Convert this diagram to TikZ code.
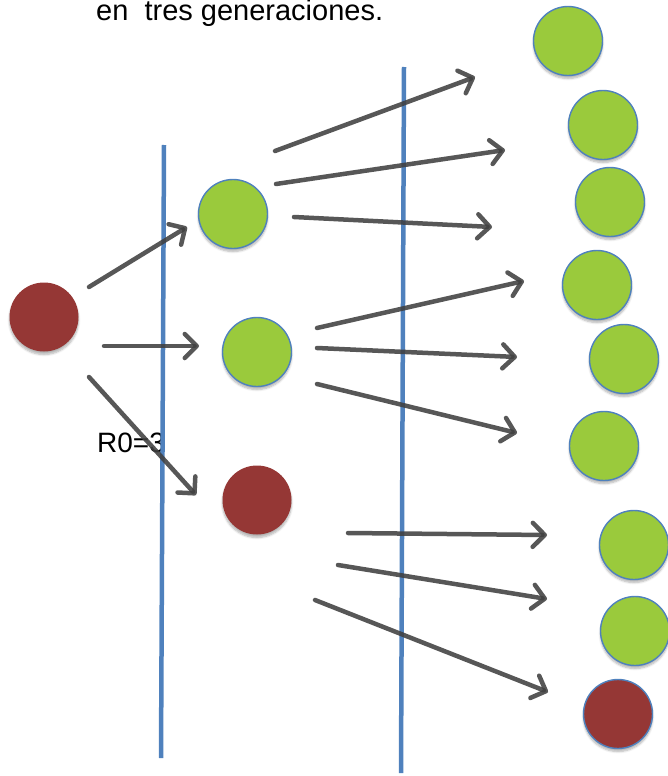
\documentclass[tikz,border=0pt]{standalone}
\usepackage{fontspec}
\setmainfont{Liberation Sans}
\usetikzlibrary{arrows.meta,shadows.blur}
\definecolor{leaf}{RGB}{154,202,60}
\definecolor{rust}{RGB}{149,55,53}
\definecolor{edge}{RGB}{79,129,189}
\definecolor{ink}{RGB}{64,64,64}
\tikzset{
  case/.style={circle,minimum size=69pt,inner sep=0pt,
    blur shadow={shadow xshift=0pt,shadow yshift=-3pt,shadow blur steps=6,shadow opacity=30}},
  healthy/.style={case,fill=leaf,draw=edge,line width=1.4pt},
  sick/.style={case,fill=rust},
  sickedge/.style={case,fill=rust,draw=edge,line width=1.4pt},
  spread/.style={draw=ink,draw opacity=0.88,line width=4.5pt,line cap=round,line join=round,
    -{Straight Barb[length=12pt,width=24pt,line cap=round,line join=round]}},
  divider/.style={draw=edge,line width=4.5pt},
  label/.style={font=\fontsize{29}{32}\selectfont,inner sep=0pt,anchor=base west}
}
\begin{document}
\begin{tikzpicture}[x=1pt,y=-1pt]
\useasboundingbox (0,0) rectangle (668,776);

% captions
\node[label] (title) at (96,21) {en\ \ tres generaciones.};
\node[label,font=\fontsize{28}{32}\selectfont] (rzero) at (97,452) {R0=3};

% generation dividers
\coordinate (d1top) at (164,145);
\coordinate (d1bot) at (161,758);
\coordinate (d2top) at (404,67);
\coordinate (d2bot) at (401,773);
\draw[divider] (d1top) -- (d1bot);
\draw[divider] (d2top) -- (d2bot);

% arrow end points
\coordinate (a1s) at (89,287);  \coordinate (a1e) at (187,227);
\coordinate (a2s) at (104,346); \coordinate (a2e) at (199,346);
\coordinate (a3s) at (89,377);  \coordinate (a3e) at (196,495);

\coordinate (b1s) at (275,151); \coordinate (b1e) at (475,77);
\coordinate (b2s) at (276,184); \coordinate (b2e) at (505,150);
\coordinate (b3s) at (294,217); \coordinate (b3e) at (492,227);

\coordinate (c1s) at (317,328); \coordinate (c1e) at (524,281);
\coordinate (c2s) at (317,348); \coordinate (c2e) at (517,357);
\coordinate (c3s) at (317,384); \coordinate (c3e) at (517,433);

\coordinate (e1s) at (348,533); \coordinate (e1e) at (547,535);
\coordinate (e2s) at (338,565); \coordinate (e2e) at (547,599);
\coordinate (e3s) at (315,600); \coordinate (e3e) at (548,692);

\foreach \k in {a1,a2,a3,b1,b2,b3,c1,c2,c3,e1,e2,e3}
  \draw[spread] (\k s) -- (\k e);

% first generation
\node[sick] (p0) at (44,317) {};

% second generation
\node[healthy] (g1) at (233,214) {};
\node[healthy] (g2) at (257,352) {};
\node[sick] (g3) at (257,500) {};

% third generation
\node[healthy] (h1) at (568,41) {};
\node[healthy] (h2) at (603,125) {};
\node[healthy] (h3) at (610,202) {};
\node[healthy] (h4) at (597,285) {};
\node[healthy] (h5) at (624,359) {};
\node[healthy] (h6) at (604,446) {};
\node[healthy] (h7) at (634,545) {};
\node[healthy] (h8) at (635,631) {};
\node[sickedge] (h9) at (618,714) {};
\end{tikzpicture}
\end{document}
